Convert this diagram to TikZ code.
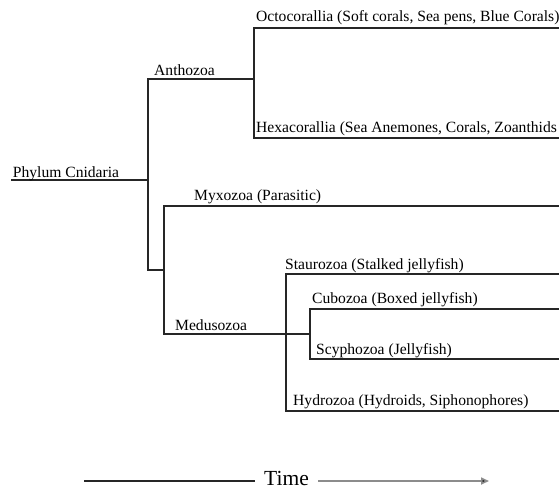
\documentclass[tikz,border=0pt]{standalone}
\usepackage{fontspec}
\setmainfont{Liberation Serif}
\usetikzlibrary{arrows.meta}
\tikzset{
  br/.style={line width=1.7pt, draw=black!85, line join=miter},
  lab/.style={anchor=base west, inner sep=0pt, font=\fontsize{15.6}{18}\selectfont},
}
\begin{document}
\begin{tikzpicture}[x=1pt,y=-1pt]
\useasboundingbox (0,0) rectangle (559,490);
% coordinates
\coordinate (root) at (11,180);
\coordinate (r) at (148,180);
\coordinate (ant) at (148,79);
\coordinate (ant2) at (254,79);
\coordinate (oc) at (254,27.7);
\coordinate (oce) at (559,27.7);
\coordinate (hx) at (254,138);
\coordinate (hxe) at (559,138);
\coordinate (bot) at (148,270);
\coordinate (bot2) at (164,270);
\coordinate (my) at (164,206);
\coordinate (mye) at (559,206);
\coordinate (me) at (164,333.7);
\coordinate (me2) at (286,333.7);
\coordinate (st) at (286,274);
\coordinate (ste) at (559,274);
\coordinate (hy) at (286,411);
\coordinate (hye) at (559,411);
\coordinate (cu) at (310,309);
\coordinate (cue) at (559,309);
\coordinate (sc) at (310,359);
\coordinate (sce) at (559,359);
\coordinate (cs) at (310,333.7);
% branches
\draw[br] (root) -- (r);
\draw[br] (ant2) -- (ant) -- (bot) -- (bot2);
\draw[br] (oce) -- (oc) -- (hx) -- (hxe);
\draw[br] (mye) -- (my) -- (me) -- (me2);
\draw[br] (ste) -- (st) -- (hy) -- (hye);
\draw[br] (me2) -- (cs);
\draw[br] (cue) -- (cu) -- (sc) -- (sce);
% labels
\node[lab] (lphy) at (12.7,177) {Phylum Cnidaria};
\node[lab] (lant) at (154,75) {Anthozoa};
\node[lab] (loct) at (256,21.5) {Octocorallia (Soft corals, Sea pens, Blue Corals)};
\node[lab] (lhex) at (256,132.5) {Hexacorallia (Sea Anemones, Corals, Zoanthids};
\node[lab] (lmyx) at (194,200) {Myxozoa (Parasitic)};
\node[lab] (lmed) at (175,330.5) {Medusozoa};
\node[lab] (lsta) at (285,269) {Staurozoa (Stalked jellyfish)};
\node[lab] (lcub) at (312,303.5) {Cubozoa (Boxed jellyfish)};
\node[lab] (lscy) at (316,354) {Scyphozoa (Jellyfish)};
\node[lab] (lhyd) at (293,405.5) {Hydrozoa (Hydroids, Siphonophores)};
% time axis
\coordinate (tl) at (84,481);
\coordinate (tr) at (489,481);
\node[anchor=base west, inner ysep=0pt, inner xsep=9pt, font=\fontsize{21.5}{24}\selectfont] (time) at (255,485.5) {Time};
\draw[br] (tl) -- (tl -| time.west);
\draw[line width=1.6pt, draw=black!45, -{Triangle[length=8pt,width=7pt,fill=black!90]}] (tl -| time.east) -- (tr);
\end{tikzpicture}
\end{document}
